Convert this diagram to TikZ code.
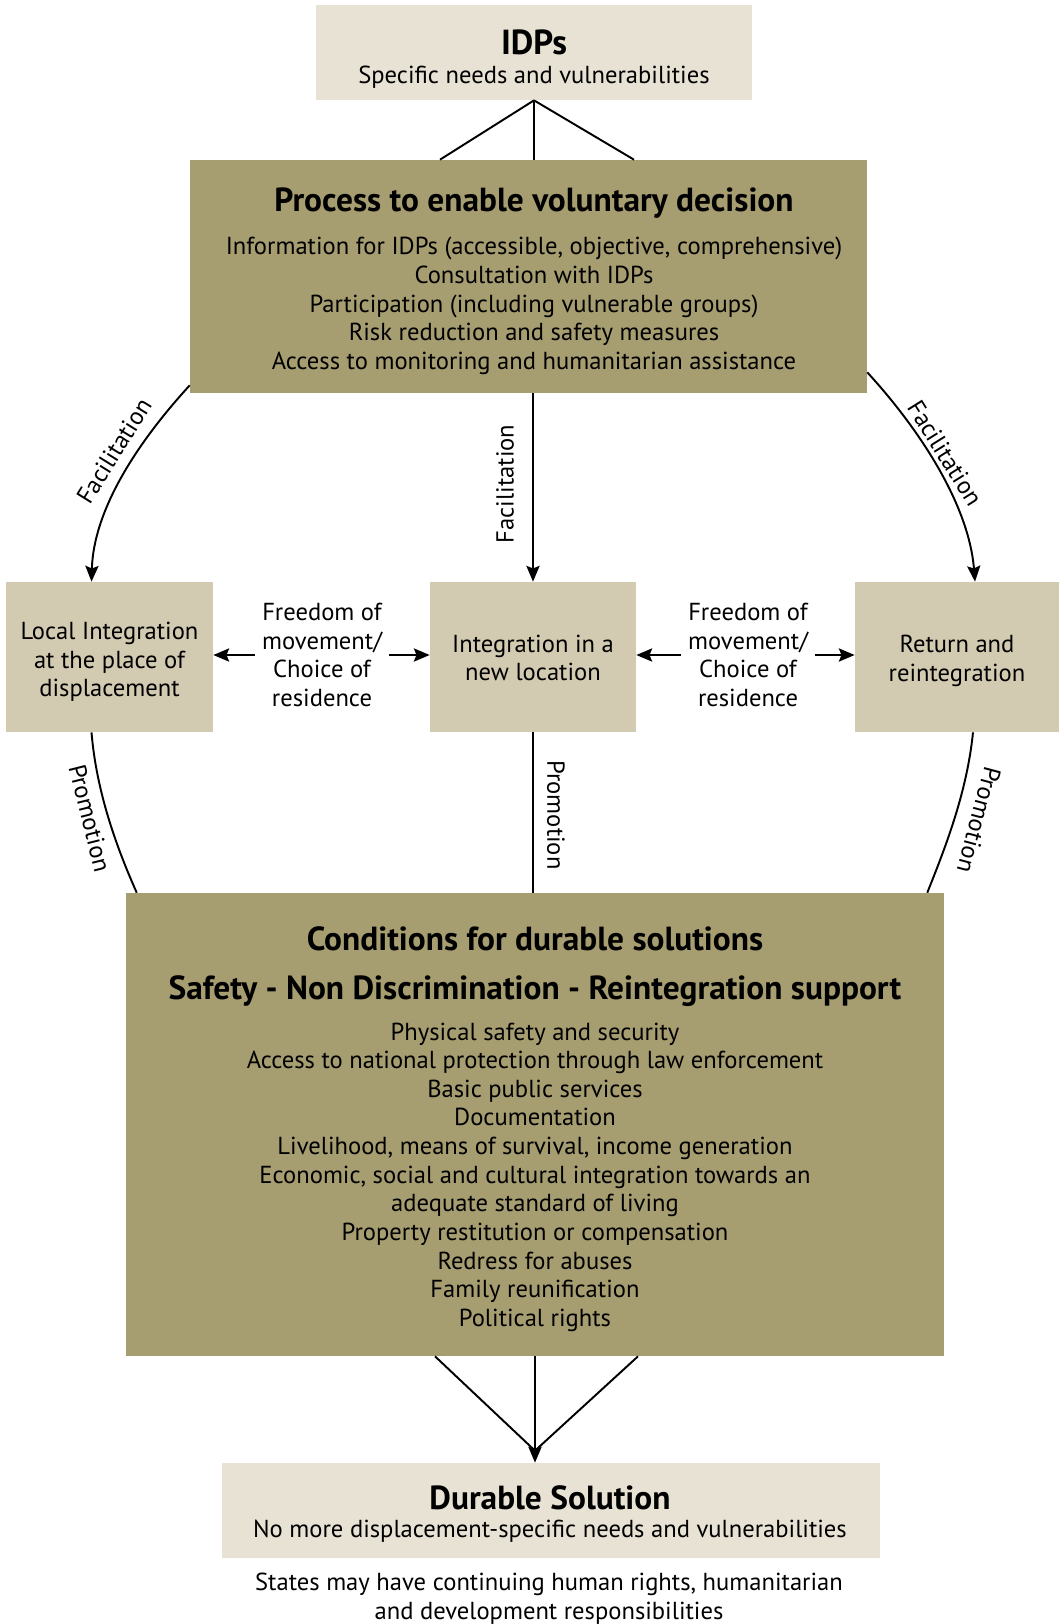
\documentclass[tikz,border=0pt]{standalone}
\usepackage{fontspec}
\setmainfont{PT Sans}
\usetikzlibrary{calc,arrows.meta}
\definecolor{paleBeige}{HTML}{E8E2D5}
\definecolor{midBeige}{HTML}{D2CAB1}
\definecolor{oliveBox}{HTML}{A69D70}
\newcommand\bodyfont{\fontsize{14}{16.3}\selectfont}
\newcommand\headfont{\fontsize{19}{21}\selectfont\bfseries}
\newcommand\bigfont{\fontsize{19.8}{22}\selectfont\bfseries}
\tikzset{
  box/.style={inner sep=0pt, align=center, font=\bodyfont},
  palebox/.style={box, fill=paleBeige, minimum height=1.9cm},
  midbox/.style={box, fill=midBeige, minimum width=4.12cm, minimum height=3cm},
  olivebox/.style={box, fill=oliveBox},
  tag/.style={font=\bodyfont, inner sep=1pt},
  conn/.style={line width=1.1pt},
  arr/.style={conn, -{Stealth[length=9pt, width=7.5pt, inset=1.5pt]}}
}

\begin{document}
\begin{tikzpicture}[x=0.02cm, y=-0.02cm]
			%%%%% START %%%%%
			\useasboundingbox (0, 0) rectangle (1060, 1624);
			
			\node[palebox, minimum width=8.72cm] (idps) at (534, 52.5) {};
			\node[box] (idpstext) at (534, 59) {{\bigfont IDPs}\\[0pt] Specific needs and vulnerabilities};
			
			\node[olivebox, minimum width=13.54cm, minimum height=4.66cm] (process) at (528.5, 276.5) {};
			\node[box] (processtext) at (534, 281)
			  {{\headfont Process to enable voluntary decision}\\[8.7pt]
			   Information for IDPs (accessible, objective, comprehensive)\\
			   Consultation with IDPs\\
			   Participation (including vulnerable groups)\\
			   Risk reduction and safety measures\\
			   Access to monitoring and humanitarian assistance};
			
			\node[midbox, minimum width=4.14cm] (local) at (109.5, 657) {};
			\node[box] (localtext) at (109.5, 662) {Local Integration\\at the place of\\displacement};
			\node[midbox] (newloc) at (533, 657) {};
			\node[box] (newloctext) at (533, 658) {Integration in a\\new location};
			\node[midbox, minimum width=4.08cm] (return) at (957, 657) {};
			\node[box] (returntext) at (957, 661) {Return and\\reintegration};
			
			\node[olivebox, minimum width=16.36cm, minimum height=9.26cm] (conditions) at (535, 1124.5) {};
			\node[box] (conditionstext) at (535, 1129)
			  {{\headfont Conditions for durable solutions}\\[11.5pt]
			   {\headfont Safety - Non Discrimination - Reintegration support}\\[7pt]
			   Physical safety and security\\
			   Access to national protection through law enforcement\\
			   Basic public services\\
			   Documentation\\
			   Livelihood, means of survival, income generation\\
			   Economic, social and cultural integration towards an\\
			   adequate standard of living\\
			   Property restitution or compensation\\
			   Redress for abuses\\
			   Family reunification\\
			   Political rights};
			
			\node[palebox, minimum width=13.16cm] (durable) at (551, 1510.5) {};
			\node[box] (durabletext) at (550, 1514) {{\headfont Durable Solution}\\[0pt] No more displacement-specific needs and vulnerabilities};
			\node[box] (note) at (549, 1599) {States may have continuing human rights, humanitarian\\and development responsibilities};
			
			% IDPs fan into the process
			\draw[conn] (idps.south) -- (idps.south |- process.north);
			\draw[conn] (idps.south) -- ($(idps.south |- process.north)+(-94, 0)$);
			\draw[conn] (idps.south) -- ($(idps.south |- process.north)+(100, 0)$);
			
			% facilitation
			\draw[arr] ($(process.south west)+(0, -8)$) .. controls +(-55, 60) and +(2, -70) .. ($(local.north)+(-18, 0)$);
			\draw[arr] (newloc.north |- process.south) -- (newloc.north);
			\draw[arr] ($(process.south east)+(0, -21)$) .. controls +(55, 60) and +(-6, -75) .. ($(return.north)+(18, 0)$);
			\node[tag, rotate=58] (facL) at (114, 451) {Facilitation};
			\node[tag, rotate=90] (facM) at (505, 484) {Facilitation};
			\node[tag, rotate=-58] (facR) at (945, 453) {Facilitation};
			
			% freedom of movement
			\node[tag, align=center, inner xsep=4pt] (freeL) at (322, 655) {Freedom of\\movement/\\Choice of\\residence};
			\node[tag, align=center, inner xsep=4pt] (freeR) at (748, 655) {Freedom of\\movement/\\Choice of\\residence};
			\draw[arr] (freeL.west) -- (freeL.west -| local.east);
			\draw[arr] (freeL.east) -- (freeL.east -| newloc.west);
			\draw[arr] (freeR.west) -- (freeR.west -| newloc.east);
			\draw[arr] (freeR.east) -- (freeR.east -| return.west);
			
			% promotion
			\draw[conn] ($(local.south)+(-18, 0)$) .. controls +(5, 60) and +(-20, -45) .. ($(conditions.north west)+(11, 0)$);
			\draw[conn] (newloc.south) -- (newloc.south |- conditions.north);
			\draw[conn] ($(return.south)+(16, 0)$) .. controls +(-6, 60) and +(18, -45) .. ($(conditions.north east)+(-17, 0)$);
			\node[tag, rotate=-76] (proL) at (90, 818) {Promotion};
			\node[tag, rotate=-90] (proM) at (556, 815) {Promotion};
			\node[tag, rotate=-105] (proR) at (979, 820) {Promotion};
			
			% conditions lead to the durable solution
			\coordinate (meet) at ($(conditions.south |- durable.north)+(0, -12)$);
			\draw[conn] ($(conditions.south)+(-100, 0)$) -- (meet);
			\draw[conn] ($(conditions.south)+(103, 0)$) -- (meet);
			\draw[arr] (conditions.south) -- (conditions.south |- durable.north);
			
			%%%%% END %%%%%
\end{tikzpicture}
\end{document}
